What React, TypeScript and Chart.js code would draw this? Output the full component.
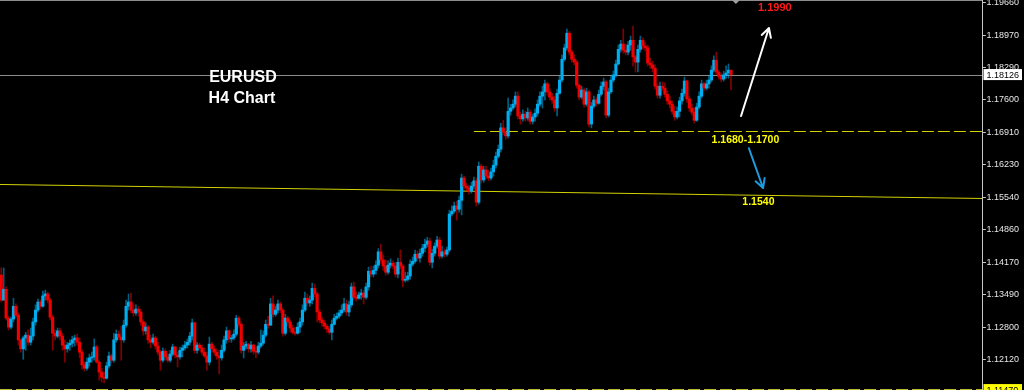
import { useEffect, useRef } from "react";
import { Chart, registerables } from "chart.js";
Chart.register(...registerables);

// ---- data (EURUSD H4) ----
const firstOpen = 1.1389;
const closes = [
  1.1336, 1.1359, 1.1298, 1.1279, 1.1296, 1.1323, 1.1304, 1.1252, 1.1233, 1.1256,
  1.1262, 1.1247, 1.1260, 1.1290, 1.1315, 1.1332, 1.1323, 1.1345, 1.1349, 1.1336,
  1.1300, 1.1266, 1.1260, 1.1271, 1.1260, 1.1241, 1.1233, 1.1241, 1.1245, 1.1252,
  1.1256, 1.1247, 1.1226, 1.1199, 1.1192, 1.1205, 1.1214, 1.1216, 1.1237, 1.1205,
  1.1184, 1.1173, 1.1171, 1.1197, 1.1218, 1.1209, 1.1252, 1.1264, 1.1258, 1.1252,
  1.1283, 1.1323, 1.1332, 1.1315, 1.1309, 1.1317, 1.1311, 1.1290, 1.1271, 1.1279,
  1.1252, 1.1247, 1.1256, 1.1239, 1.1226, 1.1209, 1.1228, 1.1216, 1.1209, 1.1222,
  1.1237, 1.1220, 1.1216, 1.1230, 1.1235, 1.1241, 1.1247, 1.1260, 1.1288, 1.1230,
  1.1241, 1.1235, 1.1226, 1.1218, 1.1205, 1.1243, 1.1233, 1.1226, 1.1218, 1.1214,
  1.1230, 1.1252, 1.1271, 1.1254, 1.1256, 1.1264, 1.1298, 1.1285, 1.1230, 1.1239,
  1.1243, 1.1233, 1.1241, 1.1228, 1.1226, 1.1239, 1.1245, 1.1262, 1.1285, 1.1283,
  1.1328, 1.1306, 1.1315, 1.1328, 1.1315, 1.1266, 1.1298, 1.1290, 1.1277, 1.1268,
  1.1266, 1.1279, 1.1290, 1.1315, 1.1340, 1.1330, 1.1336, 1.1361, 1.1349, 1.1311,
  1.1294, 1.1288, 1.1281, 1.1275, 1.1268, 1.1285, 1.1298, 1.1302, 1.1309, 1.1315,
  1.1328, 1.1311, 1.1326, 1.1364, 1.1342, 1.1340, 1.1347, 1.1351, 1.1342, 1.1364,
  1.1397, 1.1391, 1.1399, 1.1410, 1.1438, 1.1421, 1.1408, 1.1395, 1.1410, 1.1414,
  1.1408, 1.1391, 1.1416, 1.1408, 1.1378, 1.1380, 1.1387, 1.1412, 1.1418, 1.1433,
  1.1425, 1.1435, 1.1446, 1.1454, 1.1461, 1.1416, 1.1435, 1.1450, 1.1463, 1.1429,
  1.1438, 1.1433, 1.1442, 1.1518, 1.1524, 1.1535, 1.1528, 1.1547, 1.1594, 1.1577,
  1.1573, 1.1566, 1.1577, 1.1588, 1.1543, 1.1619, 1.1590, 1.1611, 1.1598, 1.1594,
  1.1607, 1.1621, 1.1640, 1.1655, 1.1700, 1.1691, 1.1683, 1.1735, 1.1742, 1.1750,
  1.1767, 1.1725, 1.1719, 1.1729, 1.1721, 1.1733, 1.1714, 1.1723, 1.1731, 1.1750,
  1.1767, 1.1776, 1.1793, 1.1776, 1.1765, 1.1759, 1.1742, 1.1773, 1.1801, 1.1845,
  1.1869, 1.1900, 1.1860, 1.1845, 1.1839, 1.1790, 1.1765, 1.1780, 1.1750, 1.1776,
  1.1708, 1.1746, 1.1759, 1.1752, 1.1771, 1.1788, 1.1797, 1.1727, 1.1776, 1.1801,
  1.1812, 1.1835, 1.1866, 1.1877, 1.1864, 1.1860, 1.1875, 1.1885, 1.1850, 1.1839,
  1.1866, 1.1885, 1.1873, 1.1869, 1.1837, 1.1833, 1.1826, 1.1788, 1.1769, 1.1788,
  1.1784, 1.1771, 1.1757, 1.1750, 1.1735, 1.1723, 1.1735, 1.1757, 1.1773, 1.1799,
  1.1761, 1.1742, 1.1733, 1.1716, 1.1744, 1.1767, 1.1793, 1.1784, 1.1793, 1.1801,
  1.1822, 1.1843, 1.1818, 1.1809, 1.1803, 1.1812, 1.1816, 1.1822, 1.18126,
];
const highs = [
  1.1404, 1.1404, 1.1364, 1.1302, 1.1300, 1.1340, 1.1328, 1.1309, 1.1252, 1.1260,
  1.1268, 1.1273, 1.1277, 1.1298, 1.1326, 1.1338, 1.1336, 1.1355, 1.1357, 1.1353,
  1.1340, 1.1304, 1.1273, 1.1277, 1.1277, 1.1266, 1.1252, 1.1247, 1.1252, 1.1260,
  1.1262, 1.1264, 1.1256, 1.1230, 1.1205, 1.1214, 1.1222, 1.1226, 1.1254, 1.1241,
  1.1209, 1.1192, 1.1184, 1.1205, 1.1226, 1.1222, 1.1266, 1.1273, 1.1271, 1.1281,
  1.1294, 1.1336, 1.1349, 1.1351, 1.1328, 1.1326, 1.1323, 1.1317, 1.1294, 1.1288,
  1.1283, 1.1262, 1.1264, 1.1260, 1.1247, 1.1230, 1.1235, 1.1233, 1.1222, 1.1230,
  1.1243, 1.1239, 1.1226, 1.1237, 1.1241, 1.1249, 1.1254, 1.1268, 1.1296, 1.1290,
  1.1247, 1.1245, 1.1241, 1.1235, 1.1226, 1.1258, 1.1247, 1.1239, 1.1233, 1.1230,
  1.1241, 1.1260, 1.1279, 1.1273, 1.1262, 1.1273, 1.1304, 1.1302, 1.1290, 1.1247,
  1.1249, 1.1245, 1.1249, 1.1243, 1.1237, 1.1247, 1.1273, 1.1271, 1.1294, 1.1302,
  1.1340, 1.1345, 1.1323, 1.1336, 1.1332, 1.1319, 1.1306, 1.1302, 1.1294, 1.1283,
  1.1279, 1.1288, 1.1298, 1.1326, 1.1353, 1.1349, 1.1345, 1.1372, 1.1370, 1.1353,
  1.1315, 1.1300, 1.1294, 1.1285, 1.1281, 1.1294, 1.1306, 1.1309, 1.1315, 1.1326,
  1.1340, 1.1336, 1.1334, 1.1372, 1.1374, 1.1353, 1.1353, 1.1359, 1.1357, 1.1372,
  1.1406, 1.1408, 1.1408, 1.1419, 1.1445, 1.1454, 1.1431, 1.1421, 1.1419, 1.1423,
  1.1419, 1.1416, 1.1425, 1.1442, 1.1412, 1.1395, 1.1395, 1.1421, 1.1427, 1.1442,
  1.1440, 1.1444, 1.1454, 1.1465, 1.1469, 1.1467, 1.1444, 1.1457, 1.1471, 1.1469,
  1.1450, 1.1444, 1.1448, 1.1526, 1.1535, 1.1543, 1.1545, 1.1556, 1.1602, 1.1598,
  1.1583, 1.1579, 1.1585, 1.1596, 1.1594, 1.1628, 1.1623, 1.1619, 1.1619, 1.1611,
  1.1615, 1.1632, 1.1649, 1.1664, 1.1710, 1.1716, 1.1700, 1.1763, 1.1750, 1.1759,
  1.1776, 1.1776, 1.1733, 1.1738, 1.1735, 1.1742, 1.1738, 1.1729, 1.1740, 1.1759,
  1.1776, 1.1788, 1.1801, 1.1797, 1.1782, 1.1773, 1.1767, 1.1782, 1.1809, 1.1854,
  1.1877, 1.1909, 1.1904, 1.1864, 1.1854, 1.1843, 1.1793, 1.1788, 1.1784, 1.1784,
  1.1780, 1.1754, 1.1767, 1.1765, 1.1780, 1.1797, 1.1805, 1.1801, 1.1784, 1.1809,
  1.1820, 1.1843, 1.1875, 1.1885, 1.1909, 1.1877, 1.1883, 1.1894, 1.1915, 1.1854,
  1.1875, 1.1894, 1.1890, 1.1881, 1.1875, 1.1847, 1.1841, 1.1833, 1.1793, 1.1797,
  1.1797, 1.1795, 1.1778, 1.1767, 1.1757, 1.1746, 1.1744, 1.1765, 1.1782, 1.1807,
  1.1801, 1.1767, 1.1750, 1.1742, 1.1752, 1.1776, 1.1801, 1.1797, 1.1801, 1.1809,
  1.1831, 1.1852, 1.1860, 1.1822, 1.1816, 1.1820, 1.1831, 1.1835, 1.1822,
];
const lows = [
  1.1332, 1.1336, 1.1294, 1.1273, 1.1275, 1.1290, 1.1300, 1.1241, 1.1226, 1.1211,
  1.1230, 1.1241, 1.1241, 1.1252, 1.1283, 1.1311, 1.1317, 1.1321, 1.1336, 1.1330,
  1.1294, 1.1230, 1.1252, 1.1256, 1.1252, 1.1230, 1.1205, 1.1226, 1.1230, 1.1237,
  1.1239, 1.1241, 1.1214, 1.1190, 1.1186, 1.1188, 1.1197, 1.1205, 1.1209, 1.1203,
  1.1167, 1.1163, 1.1161, 1.1169, 1.1192, 1.1203, 1.1205, 1.1247, 1.1252, 1.1209,
  1.1247, 1.1279, 1.1315, 1.1309, 1.1302, 1.1304, 1.1302, 1.1283, 1.1262, 1.1264,
  1.1245, 1.1235, 1.1243, 1.1233, 1.1220, 1.1188, 1.1205, 1.1209, 1.1205, 1.1205,
  1.1218, 1.1214, 1.1195, 1.1211, 1.1216, 1.1230, 1.1235, 1.1241, 1.1252, 1.1224,
  1.1224, 1.1230, 1.1220, 1.1214, 1.1188, 1.1199, 1.1226, 1.1220, 1.1211, 1.1180,
  1.1209, 1.1226, 1.1245, 1.1247, 1.1247, 1.1252, 1.1260, 1.1279, 1.1224, 1.1214,
  1.1233, 1.1226, 1.1226, 1.1222, 1.1214, 1.1222, 1.1235, 1.1241, 1.1258, 1.1277,
  1.1283, 1.1300, 1.1302, 1.1309, 1.1309, 1.1260, 1.1262, 1.1283, 1.1268, 1.1264,
  1.1262, 1.1264, 1.1268, 1.1283, 1.1311, 1.1323, 1.1323, 1.1328, 1.1342, 1.1290,
  1.1288, 1.1281, 1.1275, 1.1268, 1.1264, 1.1252, 1.1283, 1.1294, 1.1298, 1.1304,
  1.1311, 1.1304, 1.1302, 1.1321, 1.1336, 1.1334, 1.1338, 1.1338, 1.1328, 1.1338,
  1.1357, 1.1385, 1.1385, 1.1391, 1.1404, 1.1414, 1.1399, 1.1389, 1.1391, 1.1404,
  1.1402, 1.1385, 1.1383, 1.1402, 1.1364, 1.1374, 1.1376, 1.1380, 1.1408, 1.1414,
  1.1419, 1.1416, 1.1429, 1.1438, 1.1448, 1.1410, 1.1404, 1.1429, 1.1446, 1.1423,
  1.1425, 1.1427, 1.1429, 1.1438, 1.1514, 1.1520, 1.1505, 1.1522, 1.1516, 1.1571,
  1.1566, 1.1560, 1.1562, 1.1571, 1.1535, 1.1539, 1.1583, 1.1585, 1.1592, 1.1588,
  1.1590, 1.1598, 1.1615, 1.1636, 1.1649, 1.1685, 1.1676, 1.1678, 1.1727, 1.1738,
  1.1744, 1.1719, 1.1708, 1.1714, 1.1714, 1.1716, 1.1708, 1.1708, 1.1714, 1.1725,
  1.1746, 1.1742, 1.1759, 1.1769, 1.1759, 1.1752, 1.1735, 1.1725, 1.1771, 1.1797,
  1.1841, 1.1864, 1.1854, 1.1839, 1.1833, 1.1784, 1.1759, 1.1761, 1.1744, 1.1746,
  1.1702, 1.1700, 1.1742, 1.1746, 1.1750, 1.1767, 1.1780, 1.1721, 1.1723, 1.1773,
  1.1797, 1.1807, 1.1833, 1.1860, 1.1858, 1.1854, 1.1854, 1.1864, 1.1831, 1.1818,
  1.1818, 1.1860, 1.1866, 1.1862, 1.1831, 1.1826, 1.1818, 1.1782, 1.1763, 1.1763,
  1.1778, 1.1765, 1.1750, 1.1742, 1.1729, 1.1716, 1.1719, 1.1723, 1.1750, 1.1767,
  1.1754, 1.1735, 1.1727, 1.1710, 1.1714, 1.1740, 1.1763, 1.1778, 1.1780, 1.1784,
  1.1797, 1.1818, 1.1812, 1.1803, 1.1797, 1.1799, 1.1805, 1.1805, 1.1780,
];

// price scale / levels
const slotCount = 401; // bar slots incl. empty space right of last bar
const yMin = 1.11461;
const yMax = 1.19702;
const axisTicks = [1.1966, 1.1897, 1.1829, 1.176, 1.1691, 1.1623, 1.1554, 1.1486, 1.1417, 1.1349, 1.128, 1.1212];
const currentPrice = 1.18126;
const bottomLevel = 1.1147;
const zoneLevel = 1.1693;
const zoneStartSlot = 193;
const trendStart = 1.15804;
const trendEnd = 1.15508;
const shiftSlot = 300;

const notes = [
  { text: "EURUSD", slot: 98.7, price: 1.1806, color: "#ffffff", size: 16 },
  { text: "H4 Chart", slot: 98.3, price: 1.1761, color: "#ffffff", size: 16 },
  { text: "1.1990", slot: 315.9, price: 1.1953, color: "#ff1a1a", size: 11 },
  { text: "1.1680-1.1700", slot: 303.9, price: 1.1674, color: "#ffff00", size: 10.5 },
  { text: "1.1540", slot: 309.2, price: 1.1543, color: "#ffff00", size: 10.5 },
];
const arrows = [
  { from: [302.1, 1.1725], to: [313.5, 1.1911], color: "#ffffff" },
  { from: [305.3, 1.1657], to: [311.1, 1.1573], color: "#1e9be0" },
];

const BULL = "#00aeef";
const BEAR = "#f00000";
const BULL_WICK = "rgba(0,174,239,0.55)";
const BEAR_WICK = "rgba(240,0,0,0.55)";

export default function App() {
  const ref = useRef<HTMLCanvasElement>(null);
  useEffect(() => {
    document.body.style.margin = "0";
    document.body.style.background = "#000";
    const opens = closes.map((_, i) => (i === 0 ? firstOpen : closes[i - 1]));
    const up = closes.map((c, i) => c >= opens[i]);
    const labels = Array.from({ length: slotCount }, (_, i) => String(i));

    const overlay = {
      id: "mt4",
      beforeDatasetsDraw(chart: any) {
        const { ctx, chartArea, scales } = chart;
        const x = scales.x, y = scales.y;
        ctx.save();
        // current price line
        const py = Math.round(y.getPixelForValue(currentPrice)) + 0.5;
        ctx.strokeStyle = "#8c8c8c";
        ctx.lineWidth = 1;
        ctx.beginPath();
        ctx.moveTo(chartArea.left, py);
        ctx.lineTo(chartArea.right, py);
        ctx.stroke();
        // zone dashed line
        ctx.strokeStyle = "#d2d200";
        ctx.setLineDash([12, 4]);
        const zy = Math.round(y.getPixelForValue(zoneLevel)) + 0.5;
        ctx.beginPath();
        ctx.moveTo(x.getPixelForValue(zoneStartSlot), zy);
        ctx.lineTo(chartArea.right, zy);
        ctx.stroke();
        // bottom dashed line
        ctx.strokeStyle = "#b8b830";
        const by = Math.round(y.getPixelForValue(bottomLevel)) - 0.5;
        ctx.beginPath();
        ctx.moveTo(chartArea.left, by);
        ctx.lineTo(chartArea.right, by);
        ctx.stroke();
        ctx.setLineDash([]);
        // trend line
        ctx.strokeStyle = "#d2d200";
        ctx.beginPath();
        ctx.moveTo(chartArea.left, y.getPixelForValue(trendStart));
        ctx.lineTo(chartArea.right, y.getPixelForValue(trendEnd));
        ctx.stroke();
        ctx.restore();
      },
      afterDatasetsDraw(chart: any) {
        const { ctx, chartArea, scales, width } = chart;
        const x = scales.x, y = scales.y;
        ctx.save();
        // arrows
        arrows.forEach((a) => {
          const x1 = x.getPixelForValue(a.from[0]), y1 = y.getPixelForValue(a.from[1]);
          const x2 = x.getPixelForValue(a.to[0]), y2 = y.getPixelForValue(a.to[1]);
          const ang = Math.atan2(y2 - y1, x2 - x1);
          ctx.strokeStyle = a.color;
          ctx.lineWidth = 2;
          ctx.lineCap = "round";
          ctx.beginPath();
          ctx.moveTo(x1, y1);
          ctx.lineTo(x2, y2);
          const hl = 10, ha = 0.5;
          ctx.moveTo(x2, y2);
          ctx.lineTo(x2 - hl * Math.cos(ang - ha), y2 - hl * Math.sin(ang - ha));
          ctx.moveTo(x2, y2);
          ctx.lineTo(x2 - hl * Math.cos(ang + ha), y2 - hl * Math.sin(ang + ha));
          ctx.stroke();
        });
        // notes
        ctx.textAlign = "center";
        ctx.textBaseline = "middle";
        notes.forEach((n) => {
          ctx.font = `bold ${n.size}px "Liberation Sans", Arial, sans-serif`;
          ctx.fillStyle = n.color;
          ctx.fillText(n.text, x.getPixelForValue(n.slot), y.getPixelForValue(n.price));
        });
        // top border + shift marker
        ctx.strokeStyle = "#8c8c8c";
        ctx.lineWidth = 1;
        ctx.beginPath();
        ctx.moveTo(chartArea.left, 0.5);
        ctx.lineTo(chartArea.right, 0.5);
        ctx.stroke();
        const sx = x.getPixelForValue(shiftSlot);
        ctx.fillStyle = "#a0a0a0";
        ctx.beginPath();
        ctx.moveTo(sx - 4, 0);
        ctx.lineTo(sx + 4, 0);
        ctx.lineTo(sx, 4);
        ctx.closePath();
        ctx.fill();
        // right price axis
        const ax = chartArea.right + 0.5;
        ctx.strokeStyle = "#c8c8c8";
        ctx.beginPath();
        ctx.moveTo(ax, 0);
        ctx.lineTo(ax, chartArea.bottom);
        ctx.stroke();
        ctx.font = `9px "Liberation Sans", Arial, sans-serif`;
        ctx.textAlign = "left";
        ctx.fillStyle = "#e6e6e6";
        axisTicks.forEach((t) => {
          const ty = Math.round(y.getPixelForValue(t)) + 0.5;
          ctx.beginPath();
          ctx.moveTo(ax, ty);
          ctx.lineTo(ax + 3, ty);
          ctx.stroke();
          ctx.fillText(t.toFixed(5), ax + 4, ty);
        });
        // price boxes
        const box = (p: number, bg: string) => {
          const cy = y.getPixelForValue(p);
          ctx.fillStyle = bg;
          ctx.fillRect(ax + 1, cy - 5.5, width - ax - 3, 11);
          ctx.fillStyle = "#000";
          ctx.fillText(p.toFixed(5), ax + 4, cy + 0.5);
        };
        box(currentPrice, "#ffffff");
        box(bottomLevel, "#ffff00");
        ctx.restore();
      },
    };

    const chart = new Chart(ref.current as HTMLCanvasElement, {
      type: "bar",
      data: {
        labels,
        datasets: [
          {
            label: "body",
            data: closes.map((c, i) => [opens[i], c]) as any,
            backgroundColor: up.map((u) => (u ? BULL : BEAR)),
            barThickness: 2.5,
            minBarLength: 1,
            borderWidth: 0,
            grouped: false,
            order: 0,
          },
          {
            label: "wick",
            data: closes.map((_, i) => [lows[i], highs[i]]) as any,
            backgroundColor: up.map((u) => (u ? BULL_WICK : BEAR_WICK)),
            barThickness: 1,
            borderWidth: 0,
            grouped: false,
            order: 1,
          },
        ],
      },
      options: {
        animation: false,
        responsive: false,
        devicePixelRatio: 1,
        events: [],
        layout: { padding: { left: 0, right: 42, top: 0, bottom: 0 } },
        plugins: { legend: { display: false }, tooltip: { enabled: false } },
        scales: {
          x: { display: false, offset: true, grid: { display: false } },
          y: { display: false, min: yMin, max: yMax, grid: { display: false } },
        },
      },
      plugins: [
        {
          id: "bg",
          beforeDraw(c: any) {
            c.ctx.save();
            c.ctx.fillStyle = "#000";
            c.ctx.fillRect(0, 0, c.width, c.height);
            c.ctx.restore();
          },
        },
        overlay,
      ],
    });
    return () => chart.destroy();
  }, []);
  return (
    <div style={{ width: 1024, height: 390, background: "#000" }}>
      <canvas ref={ref} width={1024} height={390} style={{ display: "block" }} />
    </div>
  );
}
